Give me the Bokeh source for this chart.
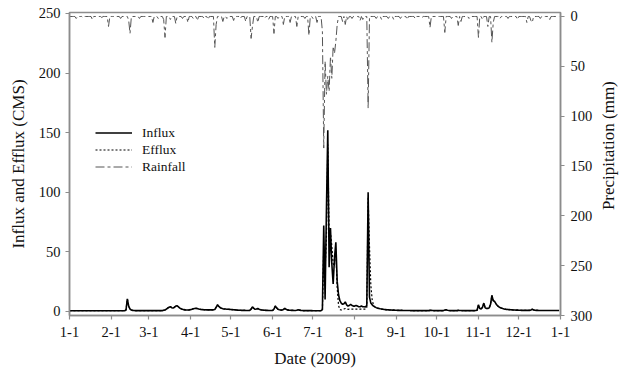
import math
from bokeh.plotting import figure
from bokeh.layouts import row
from bokeh.models import Range1d, LinearAxis, FixedTicker, Legend, LegendItem
from bokeh.core.properties import value
from bokeh.embed import file_html
from bokeh.resources import INLINE

# ---------------- data ----------------
MONTH_TICKS = [0, 31, 59, 90, 120, 151, 181, 212, 243, 273, 304, 334, 365]
MONTH_LABELS = ["1-1", "2-1", "3-1", "4-1", "5-1", "6-1", "7-1", "8-1", "9-1",
                "10-1", "11-1", "12-1", "1-1"]
LEFT_TICKS = [0, 50, 100, 150, 200, 250]
RIGHT_TICKS = [0, 50, 100, 150, 200, 250, 300]

# Influx (CMS), daily
INFLUX_JAN = [0.6, 0.6, 0.6, 0.6, 0.6, 0.6, 0.6, 0.6, 0.6, 0.6,
              0.6, 0.6, 0.6, 0.6, 0.6, 0.6, 0.6, 0.6, 0.6, 0.6,
              0.6, 0.6, 0.6, 0.6, 0.6, 0.6, 0.6, 0.6, 0.6, 0.6,
              0.6]
INFLUX_FEB = [0.6, 0.6, 0.6, 0.6, 0.6, 0.6, 0.6, 0.6, 0.6, 0.6,
              0.6, 1.2, 10.5, 4.5, 2.0, 1.2, 0.9, 0.8, 0.7, 0.7,
              0.7, 0.7, 0.7, 0.7, 0.7, 0.7, 0.7, 0.7]
INFLUX_MAR = [0.7, 0.7, 0.7, 0.7, 0.7, 0.7, 0.7, 0.7, 0.7, 0.7,
              0.7, 1.0, 1.2, 2.0, 2.8, 3.5, 4.0, 3.2, 2.8, 3.5,
              4.5, 4.8, 3.8, 2.8, 2.2, 1.8, 1.5, 1.3, 1.2, 1.2,
              1.3]
INFLUX_APR = [1.5, 1.8, 2.2, 2.5, 2.6, 2.4, 2.0, 1.8, 1.6, 1.5,
              1.4, 1.4, 1.3, 1.3, 1.3, 1.3, 1.3, 1.4, 1.6, 3.5,
              5.5, 4.2, 3.2, 2.6, 2.3, 2.1, 2.0, 1.9, 1.8, 1.7]
INFLUX_MAY = [1.6, 1.5, 1.4, 1.3, 1.2, 1.1, 1.0, 1.0, 0.9, 0.9,
              0.9, 0.8, 0.8, 0.8, 0.9, 2.0, 3.8, 2.6, 1.8, 2.0,
              2.4, 1.9, 1.5, 1.2, 1.1, 1.0, 0.9, 0.9, 0.8, 0.8,
              0.8]
INFLUX_JUN = [0.8, 2.0, 4.5, 3.0, 1.8, 1.4, 1.2, 1.1, 1.6, 2.6,
              1.8, 1.3, 1.1, 1.0, 0.9, 0.9, 0.8, 0.8, 1.0, 1.5,
              1.1, 0.9, 0.8, 0.7, 0.7, 0.7, 0.7, 0.7, 0.7, 0.7]
INFLUX_JUL = [0.6, 0.6, 0.6, 0.6, 0.6, 0.6, 0.6, 1.5, 72, 10,
              85, 152, 37, 70, 40, 23, 45, 58, 25, 14,
              9, 7, 6, 6.5, 8, 5.5, 4.5, 5, 6, 5,
              4.5]
INFLUX_AUG = [4.5, 5, 4.5, 4, 4, 4.5, 4, 4, 3.8, 5,
              100, 12, 7, 5.5, 4.5, 3.8, 3.2, 2.8, 2.5, 2.2,
              2.0, 1.8, 1.6, 1.5, 1.4, 1.3, 1.2, 1.2, 1.1, 1.1,
              1.0]
INFLUX_SEP = [1.0, 0.9, 0.9, 0.9, 0.9, 0.8, 0.8, 0.8, 0.8, 0.8,
              0.8, 0.7, 0.7, 0.7, 0.7, 0.7, 0.7, 0.7, 0.7, 0.7,
              0.7, 0.7, 0.7, 0.7, 0.7, 0.9, 1.0, 0.8, 0.7, 0.7]
INFLUX_OCT = [0.7, 0.7, 0.7, 0.7, 0.7, 0.7, 1.2, 1.4, 1.0, 0.8,
              0.7, 0.7, 0.7, 0.7, 0.7, 0.7, 0.9, 0.8, 0.8, 0.7,
              0.7, 0.7, 0.7, 0.7, 0.7, 0.7, 0.7, 0.7, 0.7, 0.8,
              1.0]
INFLUX_NOV = [5.5, 2.5, 2.0, 3.5, 7.0, 3.0, 2.5, 2.5, 3.0, 6.0,
              13.5, 9.0, 8.5, 6.5, 5.0, 4.0, 3.3, 2.8, 2.4, 2.1,
              1.9, 1.7, 1.6, 1.5, 1.4, 1.3, 1.2, 1.2, 1.1, 1.1]
INFLUX_DEC = [1.0, 1.0, 0.9, 0.9, 0.9, 0.9, 0.9, 0.9, 0.9, 1.2,
              1.8, 1.3, 1.0, 0.9, 0.9, 0.8, 0.8, 0.8, 0.8, 0.8,
              0.8, 0.8, 0.8, 0.8, 0.8, 0.8, 0.8, 0.8, 0.8, 0.8,
              0.8]

# Efflux (CMS): coincides with influx except during the summer floods
EFFLUX_JUL = [0.6, 0.6, 0.6, 0.6, 0.6, 0.6, 0.6, 1.0, 55, 35,
              62, 140, 68, 66, 55, 40, 38, 50, 20, 5,
              1.5, 1.2, 1.5, 2.0, 2.5, 2.0, 1.8, 2.0, 2.0, 2.0,
              2.0]
EFFLUX_AUG = [2.0, 2.0, 2.0, 2.0, 2.0, 2.0, 2.0, 2.0, 2.0, 3.0,
              96, 55, 22, 10, 5, 3.8, 3.2, 2.8, 2.5, 2.2,
              2.0, 1.8, 1.6, 1.5, 1.4, 1.3, 1.2, 1.2, 1.1, 1.1,
              1.0]

# Rainfall (mm), daily
RAIN_JAN = [0, 0, 0, 0, 0, 2, 0, 0, 0, 0,
            1, 0, 0, 0, 0, 0, 0, 3, 0, 0,
            0, 0, 0, 0, 1, 0, 0, 0, 0, 10,
            0]
RAIN_FEB = [0, 0, 0, 0, 0, 0, 0, 2, 0, 0,
            0, 0, 0, 4, 17, 0, 0, 0, 0, 0,
            0, 2, 0, 0, 0, 0, 0, 0]
RAIN_MAR = [0, 0, 0, 6, 0, 0, 0, 2, 0, 0,
            0, 3, 21, 0, 0, 0, 3, 0, 0, 0,
            7, 0, 0, 0, 0, 2, 0, 0, 0, 6,
            0]
RAIN_APR = [0, 0, 2, 0, 0, 4, 0, 0, 0, 0,
            2, 0, 0, 3, 0, 0, 0, 0, 31, 8,
            0, 0, 0, 0, 5, 0, 0, 2, 0, 0]
RAIN_MAY = [0, 0, 4, 0, 0, 0, 0, 2, 0, 0,
            0, 5, 0, 0, 0, 22, 10, 0, 0, 0,
            6, 0, 0, 0, 0, 2, 0, 0, 3, 0,
            0]
RAIN_JUN = [0, 17, 0, 0, 2, 0, 0, 0, 8, 0,
            0, 0, 0, 6, 0, 0, 0, 0, 10, 0,
            0, 0, 0, 0, 2, 0, 0, 19, 0, 0]
RAIN_JUL = [2, 0, 0, 6, 0, 0, 0, 15, 132, 45,
            78, 60, 75, 40, 62, 30, 37, 25, 8, 0,
            0, 0, 5, 0, 8, 0, 4, 0, 0, 2,
            0]
RAIN_AUG = [0, 0, 0, 0, 4, 0, 3, 0, 0, 0,
            92, 0, 0, 0, 0, 0, 2, 0, 0, 0,
            3, 0, 0, 0, 0, 2, 0, 0, 0, 3,
            0]
RAIN_SEP = [0, 0, 0, 2, 0, 0, 0, 0, 3, 0,
            0, 0, 0, 0, 2, 0, 0, 0, 0, 1,
            0, 0, 0, 0, 0, 11, 0, 0, 0, 0]
RAIN_OCT = [0, 0, 0, 0, 0, 0, 16, 0, 0, 0,
            0, 2, 0, 0, 0, 0, 9, 0, 5, 0,
            0, 0, 0, 0, 2, 0, 0, 0, 0, 0,
            0]
RAIN_NOV = [21, 0, 0, 3, 0, 0, 0, 10, 0, 0,
            26, 6, 0, 0, 0, 0, 2, 0, 0, 0,
            0, 0, 2, 0, 0, 0, 0, 0, 0, 3]
RAIN_DEC = [0, 0, 0, 0, 0, 0, 6, 0, 0, 4,
            6, 0, 0, 0, 0, 0, 2, 0, 0, 0,
            0, 0, 0, 3, 0, 0, 0, 0, 0, 0,
            0]

influx = (INFLUX_JAN + INFLUX_FEB + INFLUX_MAR + INFLUX_APR + INFLUX_MAY + INFLUX_JUN
          + INFLUX_JUL + INFLUX_AUG + INFLUX_SEP + INFLUX_OCT + INFLUX_NOV + INFLUX_DEC)
efflux = (INFLUX_JAN + INFLUX_FEB + INFLUX_MAR + INFLUX_APR + INFLUX_MAY + INFLUX_JUN
          + EFFLUX_JUL + EFFLUX_AUG + INFLUX_SEP + INFLUX_OCT + INFLUX_NOV + INFLUX_DEC)
rain = (RAIN_JAN + RAIN_FEB + RAIN_MAR + RAIN_APR + RAIN_MAY + RAIN_JUN
        + RAIN_JUL + RAIN_AUG + RAIN_SEP + RAIN_OCT + RAIN_NOV + RAIN_DEC)
days = list(range(len(influx)))

# ---------------- figure ----------------
FONT = "Liberation Serif"
AXIS_COLOR = "#8c8c8c"
TEXT_COLOR = "#111111"
TOTAL_W, H = 627, 372
MAIN_W = 596
BORDER_TOP, BORDER_BOTTOM = 12, 57

p = figure(width=MAIN_W, height=H, output_backend="svg", toolbar_location=None,
           x_range=Range1d(0, 365), y_range=Range1d(-3.4, 250.8),
           min_border_left=69, min_border_right=MAIN_W - 560,
           min_border_top=BORDER_TOP, min_border_bottom=BORDER_BOTTOM)
p.extra_y_ranges = {"rain": Range1d(start=300, end=-4)}
p.xgrid.visible = False
p.ygrid.visible = False
p.outline_line_color = AXIS_COLOR
p.outline_line_width = 1.5
p.background_fill_color = "white"
p.border_fill_color = "white"

r_rain = p.line(days, rain, y_range_name="rain", line_color="#555555", line_width=1,
                line_dash="9 3 3 3")
r_eff = p.line(days, efflux, line_color="#000000", line_width=1.2, line_dash="2 2")
r_inf = p.line(days, influx, line_color="#000000", line_width=1.6)

raxis = LinearAxis(y_range_name="rain", ticker=FixedTicker(ticks=RIGHT_TICKS))
p.add_layout(raxis, "right")

p.xaxis.ticker = FixedTicker(ticks=MONTH_TICKS)
p.xaxis.major_label_overrides = {t: l for t, l in zip(MONTH_TICKS, MONTH_LABELS)}
p.xaxis.axis_label = "Date (2009)"
p.yaxis[0].ticker = FixedTicker(ticks=LEFT_TICKS)
p.yaxis[0].axis_label = "Influx and Efflux (CMS)"

for ax in p.axis:
    ax.axis_line_color = AXIS_COLOR
    ax.axis_line_width = 1.5
    ax.major_tick_line_color = AXIS_COLOR
    ax.major_tick_line_width = 1.2
    ax.major_tick_out = 4
    ax.major_tick_in = 0
    ax.minor_tick_line_color = None
    ax.major_label_text_font = FONT
    ax.major_label_text_font_size = "14.5px"
    ax.major_label_text_color = TEXT_COLOR
    ax.axis_label_text_font = FONT
    ax.axis_label_text_font_size = "17px"
    ax.axis_label_text_font_style = "normal"
    ax.axis_label_text_color = TEXT_COLOR

p.xaxis.major_label_standoff = 7
p.xaxis.axis_label_standoff = 9
p.yaxis[0].major_label_standoff = 5
p.yaxis[0].axis_label_standoff = 8
raxis.major_label_standoff = 6

legend = Legend(items=[LegendItem(label="Influx", renderers=[r_inf]),
                       LegendItem(label="Efflux", renderers=[r_eff]),
                       LegendItem(label="Rainfall", renderers=[r_rain])],
                location=(26, 140), padding=0, margin=0, spacing=0,
                glyph_width=37, glyph_height=17, label_height=17, label_standoff=10,
                label_text_font=FONT, label_text_font_size="13.5px",
                label_text_color=TEXT_COLOR,
                border_line_color=None, background_fill_alpha=0)
p.add_layout(legend, "center")

# narrow strip carrying the right-hand axis title (reads bottom-to-top)
SIDE_W = TOTAL_W - MAIN_W
p2 = figure(width=SIDE_W, height=H, output_backend="svg", toolbar_location=None,
            x_range=Range1d(0, SIDE_W), y_range=Range1d(0, H),
            x_axis_location=None, y_axis_location=None, min_border=0)
p2.xgrid.visible = False
p2.ygrid.visible = False
p2.outline_line_color = None
p2.background_fill_color = "white"
p2.border_fill_color = "white"
frame_mid_from_bottom = H - (BORDER_TOP + (H - BORDER_TOP - BORDER_BOTTOM) / 2)
p2.text(x=[12], y=[frame_mid_from_bottom], text=["Precipitation (mm)"],
        angle=math.pi / 2, text_align="center", text_baseline="middle",
        text_font=value(FONT), text_font_size="17px", text_color=TEXT_COLOR)

layout = row(p, p2, spacing=0)
open("out.html", "w").write(file_html(layout, INLINE))
